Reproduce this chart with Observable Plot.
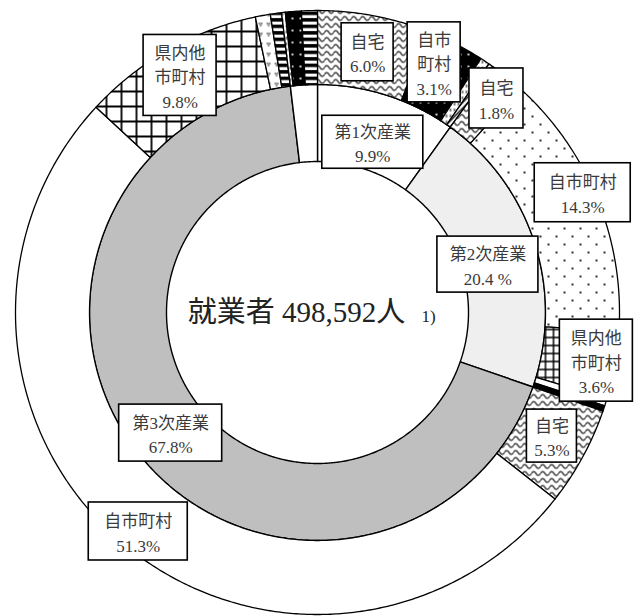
<!DOCTYPE html>
<html><head><meta charset="utf-8">
<script src="https://cdn.jsdelivr.net/npm/d3@7"></script>
<script src="https://cdn.jsdelivr.net/npm/@observablehq/plot@0.6"></script>
<style>body{margin:0;background:white}#chart svg{display:block}</style>
</head><body>
<svg width="0" height="0" style="position:absolute">
<defs>
<pattern id="wave" patternUnits="userSpaceOnUse" width="9" height="7"><rect width="9" height="7" fill="white"/><path d="M0,4 Q2.25,0 4.5,4 T9,4" fill="none" stroke="black" stroke-width="1.2"/></pattern>
<pattern id="dots" patternUnits="userSpaceOnUse" width="16" height="16"><rect width="16" height="16" fill="white"/><circle cx="4" cy="4" r="1.1" fill="black"/><circle cx="12" cy="12" r="1.1" fill="black"/></pattern>
<pattern id="blackdots" patternUnits="userSpaceOnUse" width="8" height="12"><rect width="8" height="12" fill="black"/><circle cx="4" cy="6" r="1.1" fill="white"/></pattern>
<pattern id="ladder" patternUnits="userSpaceOnUse" width="6" height="6.5"><rect width="6" height="6.5" fill="black"/><rect x="0" y="1.6" width="6" height="3" fill="white"/></pattern>
<pattern id="gridL" patternUnits="userSpaceOnUse" width="15" height="15"><rect width="15" height="15" fill="white"/><path d="M0,1H15M1,0V15" stroke="black" stroke-width="1.8"/></pattern>
<pattern id="gridS" patternUnits="userSpaceOnUse" width="8" height="8"><rect width="8" height="8" fill="white"/><path d="M0,1H8M1,0V8" stroke="black" stroke-width="1.5"/></pattern>
<pattern id="tri" patternUnits="userSpaceOnUse" width="8" height="10"><rect width="8" height="10" fill="white"/><circle cx="3" cy="3" r="0.8" fill="black"/><circle cx="5.2" cy="3" r="0.8" fill="black"/><circle cx="4.1" cy="5" r="0.8" fill="black"/></pattern>
<pattern id="dash" patternUnits="userSpaceOnUse" width="4" height="6"><rect width="4" height="6" fill="white"/><rect x="1.5" y="0" width="1" height="3" fill="black"/></pattern>
<pattern id="diag" patternUnits="userSpaceOnUse" width="6" height="6"><rect width="6" height="6" fill="white"/><path d="M0,6L6,0M-1,1L1,-1M5,7L7,5" stroke="black" stroke-width="1.5"/></pattern>
</defs></svg>
<div id="chart"></div>
<script>
// ---- data ----
const totalWorkers = 498592;
const industries = ["第1次産業", "第2次産業", "第3次産業", "分類不能"];
const industryShare = [9.9, 20.4, 67.8, 1.9];

const outerIndustry = ["第1次産業","第1次産業","第1次産業","第1次産業",
  "第2次産業","第2次産業","第2次産業","第2次産業","第2次産業",
  "第3次産業","第3次産業","第3次産業","第3次産業","第3次産業",
  "分類不能","分類不能","分類不能"];
const outerPlace = ["自宅","自市町村","県内他市町村","県外",
  "自宅","自市町村","県内他市町村","県外","不詳",
  "自宅","自市町村","県内他市町村","県外","不詳",
  "自宅","自市町村","県内他市町村"];
const outerShare = [6.0, 3.1, 0.5, 0.3,
  1.8, 14.3, 3.6, 0.4, 0.3,
  5.3, 51.3, 9.8, 0.8, 0.6,
  0.2, 0.85, 0.85];

// label texts (as printed)
const innerLabelText = ["第1次産業\n9.9%", "第2次産業\n20.4 %", "第3次産業\n67.8%"];
const outerLabelIndex = [0, 1, 4, 5, 6, 9, 10, 11];
const outerLabelText = ["自宅\n6.0%", "自市\n町村\n3.1%", "自宅\n1.8%", "自市町村\n14.3%",
  "県内他\n市町村\n3.6%", "自宅\n5.3%", "自市町村\n51.3%", "県内他\n市町村\n9.8%"];

// ---- styles / layout ----
const innerFill = ["white", "#efefef", "#bfbfbf", "white"];
const outerFill = ["url(#wave)","url(#blackdots)","url(#dash)","url(#diag)",
  "url(#wave)","url(#dots)","url(#gridS)","white","black",
  "url(#wave)","white","url(#gridL)","url(#tri)","url(#ladder)",
  "url(#dash)","url(#blackdots)","url(#ladder)"];
const R0 = 151, R1 = 228, R2 = 302;
// label box placement: polar angle (deg clockwise from 12 o'clock), radius, box w, h
const innerLabelLayout = [[18.0,179,101,53],[74.3,177,101,56],[230.6,190,103,57]];
const outerLabelLayout = [[10.9,265,52,58],[25.0,276,53,80],[39.9,279,54,60],[65.7,291,96,59],
  [99.8,283,73,82],[117.8,265,50,53],[219.3,283,99,58],[329.9,274,73,81]];

const rad = d => d * Math.PI / 180;
const polar = (r, deg) => [r * Math.sin(rad(deg)), r * Math.cos(rad(deg))];

function ringRows(shares, r0, r1, prefix, fills) {
  let acc = 0; const rows = [];
  shares.forEach((s, i) => {
    const a0 = acc / 100 * 360, a1 = (acc + s) / 100 * 360; acc += s;
    const n = Math.max(2, Math.ceil((a1 - a0) / 0.5));
    const pts = [];
    for (let k = 0; k <= n; k++) pts.push(polar(r1, a0 + (a1 - a0) * k / n));
    for (let k = n; k >= 0; k--) pts.push(polar(r0, a0 + (a1 - a0) * k / n));
    pts.push(pts[0]);
    pts.forEach(([x, y]) => rows.push({id: prefix + i, x, y, fill: fills[i]}));
  });
  return rows;
}
const innerRows = ringRows(industryShare, R0, R1, "in", innerFill);
const outerRows = ringRows(outerShare, R1, R2, "out", outerFill);

const labels = [
  ...innerLabelText.map((t, i) => ({text: t, lay: innerLabelLayout[i]})),
  ...outerLabelText.map((t, i) => ({text: t, lay: outerLabelLayout[i]}))
].map(d => {
  const [a, r, w, h] = d.lay; const [x, y] = polar(r, a);
  return {text: d.text, x, y, x1: x - w / 2, x2: x + w / 2, y1: y - h / 2, y2: y + h / 2};
});

const font = "'Liberation Serif', 'Noto Sans CJK JP', serif";
const centerText = [{t: "就業者 " + d3.format(",")(totalWorkers) + "人"}];
const noteText = [{t: "1)"}];

const chart = Plot.plot({
  width: 636, height: 616, margin: 0,
  x: {domain: [-317, 319], axis: null},
  y: {domain: [-304, 312], axis: null},
  color: {type: "identity"},
  marks: [
    Plot.line(innerRows, {x: "x", y: "y", z: "id", fill: "fill", stroke: "black", strokeWidth: 1.4, curve: "linear"}),
    Plot.line(outerRows, {x: "x", y: "y", z: "id", fill: "fill", stroke: "black", strokeWidth: 1.3, curve: "linear"}),
    Plot.rect(labels, {x1: "x1", x2: "x2", y1: "y1", y2: "y2", fill: "white", stroke: "black", strokeWidth: 1.6}),
    Plot.text(labels, {x: "x", y: "y", text: "text", fontSize: 17, lineHeight: 1.45, fill: "#3a3a3a", fontFamily: font}),
    Plot.text(centerText, {x: () => 0, y: () => 0, dx: -21, text: "t", fontSize: 29, fill: "#222", fontFamily: font}),
    Plot.text(noteText, {x: () => 0, y: () => 0, dx: 111, dy: 4, text: "t", fontSize: 17, fill: "#222", fontFamily: font})
  ]
});
document.getElementById("chart").appendChild(chart);
</script>
</body></html>
